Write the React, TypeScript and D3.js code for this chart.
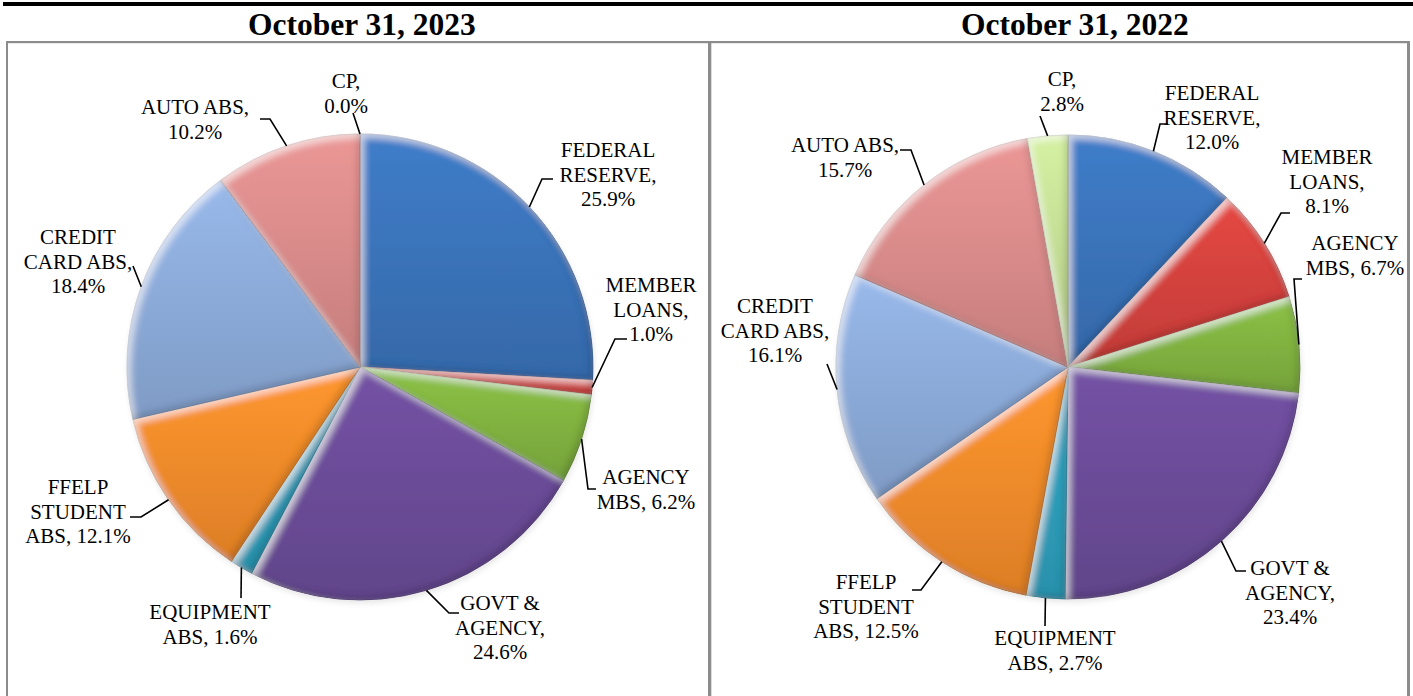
import React from "react";
import * as d3 from "d3";

// ---------------- DATA ----------------
const categories = [
  "FEDERAL RESERVE",
  "MEMBER LOANS",
  "AGENCY MBS",
  "GOVT & AGENCY",
  "EQUIPMENT ABS",
  "FFELP STUDENT ABS",
  "CREDIT CARD ABS",
  "AUTO ABS",
  "CP",
];
const values2023 = [25.9, 1.0, 6.2, 24.6, 1.6, 12.1, 18.4, 10.2, 0.0];
const values2022 = [12.0, 8.1, 6.7, 23.4, 2.7, 12.5, 16.1, 15.7, 2.8];
const titles = ["October 31, 2023", "October 31, 2022"];
// label line breaks per category ({v} = percentage)
const labelLines = [
  ["FEDERAL", "RESERVE,", "{v}"],
  ["MEMBER", "LOANS,", "{v}"],
  ["AGENCY", "MBS, {v}"],
  ["GOVT &", "AGENCY,", "{v}"],
  ["EQUIPMENT", "ABS, {v}"],
  ["FFELP", "STUDENT", "ABS, {v}"],
  ["CREDIT", "CARD ABS,", "{v}"],
  ["AUTO ABS,", "{v}"],
  ["CP,", "{v}"],
];

// ---------------- STYLE / LAYOUT ----------------
const colors = [
  "#3a72b8",
  "#d2423d",
  "#80b140",
  "#6a4b97",
  "#2f9dba",
  "#f08a2b",
  "#8ba9d7",
  "#d78a89",
  "#c3dc94",
];

const FONT = "'Liberation Serif', 'Times New Roman', Times, serif";
const LINE_H = 24.5;

type LabelPos = { tx: number; ty: number; elbow: [number, number]; end?: [number, number] };

const layouts: { cx: number; cy: number; r: number; titleX: number; labels: LabelPos[] }[] = [
  {
    cx: 360,
    cy: 367,
    r: 233,
    titleX: 362,
    labels: [
      { tx: 608, ty: 157, elbow: [542, 179], end: [553, 179] },
      { tx: 651, ty: 292, elbow: [615, 339], end: [627, 339] },
      { tx: 646, ty: 484, elbow: [588, 489], end: [596, 489] },
      { tx: 500, ty: 610, elbow: [449, 613], end: [459, 613] },
      { tx: 210, ty: 619, elbow: [241, 598] },
      { tx: 78, ty: 494, elbow: [141, 517], end: [130, 517] },
      { tx: 78, ty: 244, elbow: [133, 266] },
      { tx: 195, ty: 114, elbow: [270, 119], end: [260, 119] },
      { tx: 346, ty: 88, elbow: [353, 113] },
    ],
  },
  {
    cx: 1068,
    cy: 367,
    r: 232,
    titleX: 1075,
    labels: [
      { tx: 1212, ty: 100, elbow: [1160, 124], end: [1168, 124] },
      { tx: 1327, ty: 164, elbow: [1281, 213], end: [1290, 213] },
      { tx: 1355, ty: 250, elbow: [1294, 279], end: [1302, 279] },
      { tx: 1290, ty: 575, elbow: [1236, 571], end: [1246, 571] },
      { tx: 1055, ty: 645, elbow: [1045, 626] },
      { tx: 866, ty: 589, elbow: [921, 590], end: [912, 590] },
      { tx: 775, ty: 313, elbow: [827, 364] },
      { tx: 845, ty: 152, elbow: [911, 150], end: [900, 150] },
      { tx: 1062, ty: 86, elbow: [1040, 116] },
    ],
  },
];

const datasets = [values2023, values2022];

function PieChart({ values, layout, idx }: { values: number[]; layout: (typeof layouts)[0]; idx: number }) {
  const { cx, cy, r, labels } = layout;
  const pie = d3.pie<number>().sort(null).value((d) => d)(values);
  const arc = d3.arc<d3.PieArcDatum<number>>().innerRadius(0).outerRadius(r);

  return (
    <g>
      <circle cx={cx + 1} cy={cy + 3} r={r} fill="#000" opacity={0.1} filter="url(#pieShadow)" />
      <g transform={`translate(${cx},${cy})`}>
        {pie.map((p, i) =>
          p.endAngle - p.startAngle > 0 ? (
            <path
              key={i}
              d={arc(p) || ""}
              fill={`url(#grad-${i})`}
              stroke={d3.color(colors[i])!.darker(0.8).formatHex()}
              strokeWidth={0.6}
              filter="url(#bevel)"
            />
          ) : null
        )}
      </g>
      {pie.map((p, i) => {
        const mid = (p.startAngle + p.endAngle) / 2;
        const sx = cx + r * Math.sin(mid);
        const sy = cy - r * Math.cos(mid);
        const lab = labels[i];
        const pts: [number, number][] = [[sx, sy], lab.elbow];
        if (lab.end) pts.push(lab.end);
        const line = d3.line()(pts) || "";
        const v = values[i].toFixed(1) + "%";
        return (
          <g key={"l" + i}>
            <path d={line} fill="none" stroke="#000" strokeWidth={1.6} />
            <text textAnchor="middle" fontFamily={FONT} fontSize={21} fill="#000">
              {labelLines[i].map((ln, j) => (
                <tspan key={j} x={lab.tx} y={lab.ty + j * LINE_H}>
                  {ln.replace("{v}", v)}
                </tspan>
              ))}
            </text>
          </g>
        );
      })}
      <text
        x={layout.titleX}
        y={35}
        textAnchor="middle"
        fontFamily={FONT}
        fontWeight="bold"
        fontSize={31.5}
        fill="#000"
      >
        {titles[idx]}
      </text>
    </g>
  );
}

export default function App() {
  return (
    <svg
      width={1413}
      height={696}
      style={{ position: "absolute", left: 0, top: 0, display: "block", background: "#fff" }}
    >
      <defs>
        {colors.map((c, i) => {
          const col = d3.color(c)!;
          return (
            <linearGradient key={i} id={`grad-${i}`} x1="0" y1="0" x2="0" y2="1">
              <stop offset="0%" stopColor={col.brighter(0.25).formatHex()} />
              <stop offset="100%" stopColor={col.darker(0.25).formatHex()} />
            </linearGradient>
          );
        })}
        <filter id="bevel" x="-10%" y="-10%" width="120%" height="120%">
          <feGaussianBlur in="SourceAlpha" stdDeviation="3.5" result="b" />
          <feOffset in="b" dx="3.5" dy="3.5" result="bo1" />
          <feComposite in="SourceAlpha" in2="bo1" operator="arithmetic" k1="0" k2="1" k3="-1" k4="0" result="hiA" />
          <feFlood floodColor="#ffffff" floodOpacity="0.6" />
          <feComposite in2="hiA" operator="in" result="hi" />
          <feOffset in="b" dx="-3.5" dy="-3.5" result="bo2" />
          <feComposite in="SourceAlpha" in2="bo2" operator="arithmetic" k1="0" k2="1" k3="-1" k4="0" result="shA" />
          <feFlood floodColor="#000000" floodOpacity="0.35" />
          <feComposite in2="shA" operator="in" result="sh" />
          <feMerge>
            <feMergeNode in="SourceGraphic" />
            <feMergeNode in="hi" />
            <feMergeNode in="sh" />
          </feMerge>
        </filter>
        <filter id="pieShadow" x="-20%" y="-20%" width="140%" height="140%">
          <feGaussianBlur stdDeviation="3" />
        </filter>
      </defs>

      {/* frame */}
      <rect x={3} y={2} width={1410} height={4} fill="#000" />
      <rect x={6} y={41} width={1404} height={2.2} fill="#8c8c8c" />
      <rect x={6} y={41} width={2} height={660} fill="#8c8c8c" />
      <rect x={708} y={41} width={3.3} height={660} fill="#8c8c8c" />
      <rect x={1407} y={41} width={3} height={660} fill="#8c8c8c" />

      {datasets.map((vals, k) => (
        <PieChart key={k} values={vals} layout={layouts[k]} idx={k} />
      ))}
    </svg>
  );
}
